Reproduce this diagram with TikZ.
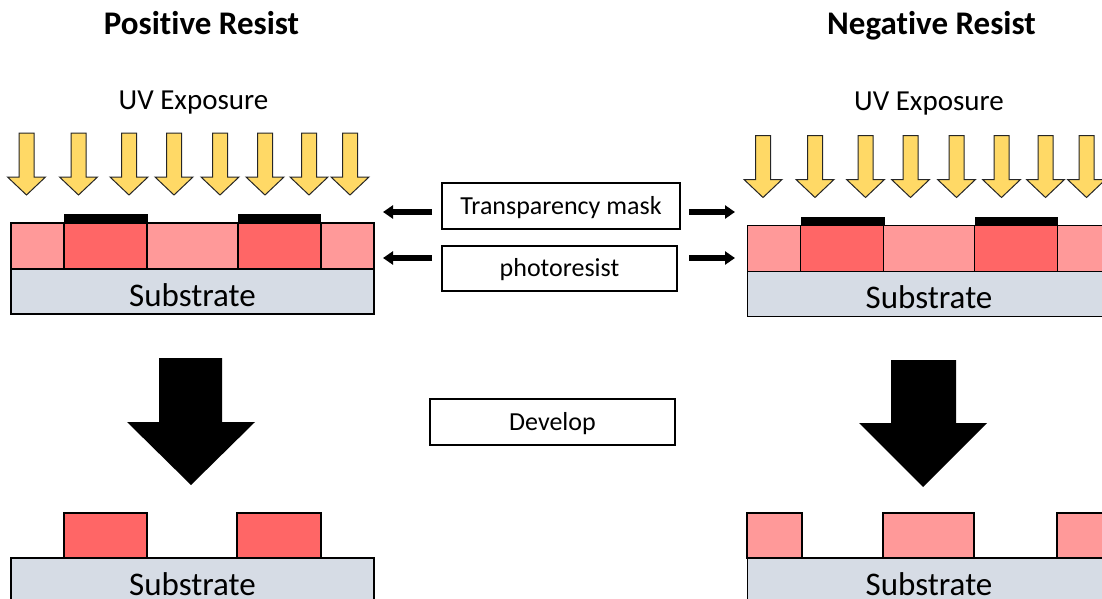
\documentclass[tikz,border=0pt]{standalone}
\usepackage{fontspec}
\setmainfont{Carlito}[Ligatures=NoCommon]
\usepackage{tikz}
\usetikzlibrary{arrows.meta,positioning,calc}

\definecolor{uvYellow}{HTML}{FFD966}
\definecolor{resLight}{HTML}{FF9999}
\definecolor{resDark}{HTML}{FF6666}
\definecolor{subGray}{HTML}{D6DCE5}

\begin{document}
\begin{tikzpicture}[
x=1pt, y=-1pt,
title-text/.style = {font=\fontsize{33pt}{36pt}\selectfont\bfseries, anchor=base},
uv-text/.style = {font=\fontsize{29pt}{32pt}\selectfont, anchor=base},
uv-arrow/.style = {fill=uvYellow, draw=black!85, line width=1pt, line join=miter},
res-light/.style = {fill=resLight, draw=black, line width=1.3pt},
res-dark/.style = {fill=resDark, draw=black, line width=1.3pt},
mask-bar/.style = {fill=black},
substrate/.style = {rectangle, fill=subGray, draw=black, line width=1.3pt, inner sep=0pt,
  minimum width=363pt, minimum height=45pt, text height=29pt, text depth=0pt,
  font=\fontsize{33pt}{36pt}\selectfont},
label-box/.style = {rectangle, draw=black, line width=1.3pt, inner sep=0pt,
  minimum height=46pt, text height=16.6pt, text depth=0pt,
  font=\fontsize{26pt}{30pt}\selectfont},
small-arrow/.style = {line width=6.5pt, -{Triangle[length=10pt,width=13pt]}},
big-arrow/.style = {fill=black}
]
\clip (0,0) rectangle (1102,599);
\useasboundingbox (0,0) rectangle (1102,599);

% titles
\node [title-text] (posTitle) at (201.5,35) {Positive Resist};
\node [title-text] (negTitle) at (931.5,35) {Negative Resist};
\node [uv-text] (uvLeft) at (193.5,110) {UV Exposure};
\node [uv-text] (uvRight) at (929,111) {UV Exposure};

% exposure stage, same on both sides
\foreach \dx/\dy/\s in {0/0/L, 736.5/2.5/R} {
\begin{scope}[shift={(\dx,\dy)}]
  \foreach \cx in {26.5,78.5,129,174,220,265,309,350}
    \filldraw [uv-arrow] (\cx-7.5,133) -- (\cx+7.5,133) -- (\cx+7.5,177) -- (\cx+19,177)
      -- (\cx,195) -- (\cx-19,177) -- (\cx-7.5,177) -- cycle;
  \filldraw [res-light] (11,223) rectangle (64,269);
  \filldraw [res-light] (147,223) rectangle (238,269);
  \filldraw [res-light] (321,223) rectangle (374,269);
  \filldraw [res-dark] (64,223) rectangle (147,269);
  \filldraw [res-dark] (238,223) rectangle (321,269);
  \fill [mask-bar] (64,214) rectangle (148,223);
  \fill [mask-bar] (238,214) rectangle (321,223);
  \node [substrate] (subTop\s) at (192.5,291.5) {Substrate};
\end{scope}
}

% labels in the middle
\node [label-box, minimum width=238pt] (mask) at (561,206) {Transparency mask};
\node [label-box, minimum width=235pt, minimum height=45pt] (resist) at (559.5,268.5) {photoresist};
\node [label-box, minimum width=245pt] (develop) at (552.5,422) {Develop};

\coordinate (maskL0) at (432,212);
\coordinate (maskL1) at (383,212);
\coordinate (maskR0) at (689,212);
\coordinate (maskR1) at (735,212);
\coordinate (resL0) at (432,258);
\coordinate (resL1) at (383,258);
\coordinate (resR0) at (689,258);
\coordinate (resR1) at (735,258);

% arrows
\draw [small-arrow] (maskL0) -- (maskL1);
\draw [small-arrow] (maskR0) -- (maskR1);
\draw [small-arrow] (resL0) -- (resL1);
\draw [small-arrow] (resR0) -- (resR1);

\fill [big-arrow] (159,358) -- (222,358) -- (222,422) -- (255,422) -- (191,485)
  -- (127,422) -- (159,422) -- cycle;
\fill [big-arrow] (891,360) -- (956,360) -- (956,423) -- (987,423) -- (923,487)
  -- (859,423) -- (891,423) -- cycle;

% after developing
\filldraw [res-dark] (64,513) rectangle (147,558);
\filldraw [res-dark] (237,513) rectangle (321,558);
\node [substrate, minimum height=46pt] (subBotL) at (192.5,581) {Substrate};

\filldraw [res-light] (747,513) rectangle (802,558);
\filldraw [res-light] (883,513) rectangle (974,558);
\filldraw [res-light] (1057,513) rectangle (1110,558);
\node [substrate, minimum height=46pt] (subBotR) at (929,581) {Substrate};

\end{tikzpicture}
\end{document}
